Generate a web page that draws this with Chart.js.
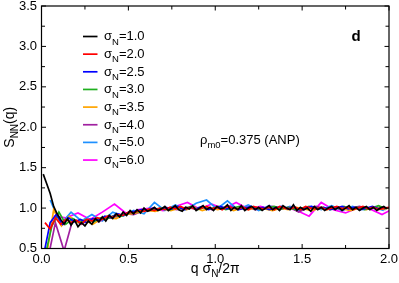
<!DOCTYPE html>
<html><head><meta charset="utf-8">
<script src="https://cdn.jsdelivr.net/npm/chart.js@4"></script>
<style>html,body{margin:0;padding:0;background:#fff}#wrap{width:399px;height:283px;position:relative}</style>
</head><body>
<div id="wrap"><canvas id="c"></canvas></div>
<script>
// ---- data ----
const seriesLabels = ['1.0','2.0','2.5','3.0','3.5','4.0','5.0','6.0'];
const seriesColors = ['#000000','#ff0000','#0000ff','#1fb01f','#ffa500','#a020a0','#1e90ff','#ff00ff'];

const q1 = [0.01,0.03,0.05,0.07,0.09,0.11,0.13,0.15,0.17,0.19,0.21,0.23,0.25,0.27,0.29,0.31,0.33,0.35,0.37,0.39,0.41,0.43,0.45,0.47,0.49,0.51,0.53,0.55,0.57,0.59,0.61,0.63,0.65,0.67,0.69,0.71,0.73,0.75,0.77,0.79,0.81,0.83,0.85,0.87,0.89,0.91,0.93,0.95,0.97,0.99,1.01,1.03,1.05,1.07,1.09,1.11,1.13,1.15,1.17,1.19,1.21,1.23,1.25,1.27,1.29,1.31,1.33,1.35,1.37,1.39,1.41,1.43,1.45,1.47,1.49,1.51,1.53,1.55,1.57,1.59,1.61,1.63,1.65,1.67,1.69,1.71,1.73,1.75,1.77,1.79,1.81,1.83,1.85,1.87,1.89,1.91,1.93,1.95,1.97,1.99];
const s1 = [1.42,1.30,1.18,1.02,0.93,0.86,0.80,0.87,0.79,0.85,0.77,0.82,0.78,0.84,0.80,0.87,0.83,0.89,0.84,0.91,0.87,0.93,0.89,0.95,0.91,0.97,0.93,0.98,0.94,1.00,0.96,0.98,1.01,0.97,0.99,1.02,0.97,1.00,1.03,0.98,0.96,1.01,0.99,1.03,0.97,1.00,1.03,0.98,1.01,0.97,1.02,0.99,1.00,1.04,0.97,1.01,0.98,1.03,0.97,1.00,1.02,0.98,1.01,0.97,1.00,1.03,0.98,1.01,0.97,1.03,1.00,0.98,1.04,0.97,1.01,0.98,1.00,0.96,1.02,0.98,1.01,0.97,1.00,1.02,0.98,1.01,0.97,1.00,1.03,0.98,1.01,0.97,1.00,1.02,0.98,1.01,0.97,1.00,1.02,0.99];

const q2 = [0.02,0.05,0.08,0.11,0.14,0.17,0.20,0.23,0.26,0.29,0.32,0.35,0.38,0.41,0.44,0.47,0.50,0.53,0.56,0.59,0.62,0.65,0.68,0.71,0.74,0.77,0.80,0.83,0.86,0.89,0.92,0.95,0.98,1.01,1.04,1.07,1.10,1.13,1.16,1.19,1.22,1.25,1.28,1.31,1.34,1.37,1.40,1.43,1.46,1.49,1.52,1.55,1.58,1.61,1.64,1.67,1.70,1.73,1.76,1.79,1.82,1.85,1.88,1.91,1.94,1.97,2.00];
const s2 = [0.82,0.74,0.88,0.80,0.86,0.82,0.85,0.81,0.86,0.84,0.88,0.86,0.90,0.89,0.92,0.91,0.95,0.94,0.97,0.96,0.99,0.97,1.00,0.98,1.01,0.99,1.02,0.99,1.01,0.98,1.00,1.02,0.99,1.01,0.98,1.02,1.00,0.99,1.01,0.98,1.02,1.00,0.99,1.01,0.98,1.02,1.00,0.99,1.01,0.98,1.02,1.00,0.99,1.01,0.98,1.00,1.02,0.99,1.01,0.98,1.00,1.02,0.99,1.01,0.98,1.00,1.01];

const q25 = [0.015,0.05,0.085,0.12,0.155,0.19,0.225,0.26,0.295,0.33,0.365,0.40,0.435,0.47,0.505,0.54,0.575,0.61,0.645,0.68,0.715,0.75,0.785,0.82,0.855,0.89,0.925,0.96,0.995,1.03,1.065,1.10,1.135,1.17,1.205,1.24,1.275,1.31,1.345,1.38,1.415,1.45,1.485,1.52,1.555,1.59,1.625,1.66,1.695,1.73,1.765,1.80,1.835,1.87,1.905,1.94,1.975];
const s25 = [0.45,0.82,0.92,0.80,0.88,0.83,0.86,0.82,0.87,0.85,0.90,0.88,0.93,0.91,0.95,0.96,0.98,0.97,1.00,0.98,1.01,0.99,1.02,0.98,1.01,0.99,1.02,0.98,1.00,1.02,0.99,1.01,0.98,1.00,1.02,0.99,1.01,0.98,1.00,1.02,0.99,1.01,0.98,1.00,1.02,0.99,1.01,0.98,1.00,1.02,0.99,1.01,0.98,1.00,1.02,0.99,1.01];

const q3 = [0.02,0.06,0.10,0.14,0.18,0.22,0.26,0.30,0.34,0.38,0.42,0.46,0.50,0.54,0.58,0.62,0.66,0.70,0.74,0.78,0.82,0.86,0.90,0.94,0.98,1.02,1.06,1.10,1.14,1.18,1.22,1.26,1.30,1.34,1.38,1.42,1.46,1.50,1.54,1.58,1.62,1.66,1.70,1.74,1.78,1.82,1.86,1.90,1.94,1.98];
const s3 = [0.40,0.78,0.95,0.80,0.87,0.82,0.86,0.83,0.88,0.87,0.91,0.90,0.94,0.95,0.97,0.98,0.99,1.00,0.98,1.01,0.99,1.02,0.98,1.01,0.99,1.02,0.98,1.00,1.02,0.99,1.01,0.98,1.00,1.02,0.99,1.01,0.98,1.00,1.02,0.99,1.01,0.98,1.00,1.02,0.99,1.01,0.98,1.00,1.03,0.99];

const q35 = [0.025,0.07,0.115,0.16,0.205,0.25,0.295,0.34,0.385,0.43,0.475,0.52,0.565,0.61,0.655,0.70,0.745,0.79,0.835,0.88,0.925,0.97,1.015,1.06,1.105,1.15,1.195,1.24,1.285,1.33,1.375,1.42,1.465,1.51,1.555,1.60,1.645,1.69,1.735,1.78,1.825,1.87,1.915,1.96,2.005];
const s35 = [0.35,0.98,0.78,0.90,0.82,0.85,0.80,0.86,0.88,0.87,0.92,0.93,0.95,0.97,0.96,0.99,0.97,1.00,0.98,1.01,0.97,1.00,0.98,1.01,0.97,1.00,0.98,1.01,0.99,0.97,1.00,0.98,1.01,0.99,0.97,1.00,0.98,1.01,0.99,0.97,1.00,0.98,1.01,0.99,1.00];

const q4 = [0.03,0.08,0.13,0.18,0.23,0.28,0.33,0.38,0.43,0.48,0.53,0.58,0.63,0.68,0.73,0.78,0.83,0.88,0.93,0.98,1.03,1.08,1.13,1.18,1.23,1.28,1.33,1.38,1.43,1.48,1.53,1.58,1.63,1.68,1.73,1.78,1.83,1.88,1.93,1.98];
const s4 = [0.30,0.82,0.47,0.86,0.80,0.87,0.83,0.90,0.89,0.93,0.92,0.96,0.97,0.98,1.00,0.98,1.01,0.99,1.02,0.98,1.00,1.02,0.99,1.01,0.98,1.00,1.02,0.99,1.01,0.95,1.00,1.02,0.99,1.01,0.98,1.00,1.02,0.99,1.01,0.98];

const q5 = [0.05,0.11,0.17,0.23,0.29,0.35,0.41,0.47,0.53,0.59,0.65,0.71,0.77,0.83,0.89,0.95,1.01,1.07,1.13,1.19,1.25,1.31,1.37,1.43,1.49,1.55,1.61,1.67,1.73,1.79,1.85,1.91,1.97];
const s5 = [1.10,0.80,0.95,0.84,0.92,0.84,0.95,0.90,0.97,0.93,1.07,0.97,1.04,0.98,1.06,1.10,0.99,1.09,0.98,1.04,0.97,1.03,0.98,1.02,0.97,1.02,0.98,1.03,0.97,1.02,0.98,1.01,0.97];

const q6 = [0.07,0.14,0.21,0.28,0.35,0.42,0.49,0.56,0.63,0.70,0.77,0.84,0.91,0.98,1.05,1.12,1.19,1.26,1.33,1.40,1.47,1.54,1.61,1.68,1.75,1.82,1.89,1.96,2.03];
const s6 = [0.90,0.88,0.94,0.86,0.95,1.05,0.93,0.98,1.00,0.97,1.02,1.07,0.99,1.05,0.99,1.07,0.99,1.02,0.98,1.01,0.97,0.90,1.07,0.98,0.94,1.00,0.99,0.92,1.00];

const seriesQ = [q1,q2,q25,q3,q35,q4,q5,q6];
const seriesS = [s1,s2,s25,s3,s35,s4,s5,s6];

const xMin = 0, xMax = 2, xStep = 0.5;
const yMin = 0.5, yMax = 3.5, yStep = 0.5;

// ---- chart ----
const FONT = "'Liberation Sans', Arial, Helvetica, sans-serif";

const datasets = seriesLabels.map((lab, i) => ({
  label: 'σN=' + lab,
  data: seriesQ[i].map((x, k) => ({x: x, y: seriesS[i][k]})),
  borderColor: seriesColors[i],
  backgroundColor: seriesColors[i],
  borderWidth: 1.7,
  pointRadius: 0,
  tension: 0,
  fill: false
}));

function drawSub(ctx, parts, x, y) {
  let cx = x;
  for (const p of parts) {
    ctx.font = (p[3] || '') + p[1] + 'px ' + FONT;
    ctx.fillText(p[0], cx, y + p[2]);
    cx += ctx.measureText(p[0]).width;
  }
  return cx - x;
}
function measureSub(ctx, parts) {
  let w = 0;
  for (const p of parts) { ctx.font = (p[3] || '') + p[1] + 'px ' + FONT; w += ctx.measureText(p[0]).width; }
  return w;
}

const decor = {
  id: 'decor',
  afterDraw(chart) {
    const ctx = chart.ctx, a = chart.chartArea;
    const xs = chart.scales.x, ys = chart.scales.y;
    ctx.save();
    ctx.strokeStyle = '#000';
    ctx.lineWidth = 1.2;
    ctx.strokeRect(a.left, a.top, a.right - a.left, a.bottom - a.top);
    ctx.lineWidth = 1;
    const tl = 4.5, tlm = 3.5;
    const xt = xs.ticks.map(t => t.value);
    const yt = ys.ticks.map(t => t.value);
    ctx.beginPath();
    xt.forEach((v, i) => {
      const px = xs.getPixelForValue(v);
      ctx.moveTo(px, a.bottom); ctx.lineTo(px, a.bottom - tl);
      ctx.moveTo(px, a.top); ctx.lineTo(px, a.top + tl);
      if (i < xt.length - 1) {
        const pm = xs.getPixelForValue((v + xt[i + 1]) / 2);
        ctx.moveTo(pm, a.bottom); ctx.lineTo(pm, a.bottom - tlm);
        ctx.moveTo(pm, a.top); ctx.lineTo(pm, a.top + tlm);
      }
    });
    yt.forEach((v, i) => {
      const py = ys.getPixelForValue(v);
      ctx.moveTo(a.left, py); ctx.lineTo(a.left + tl, py);
      ctx.moveTo(a.right, py); ctx.lineTo(a.right - tl, py);
      if (i < yt.length - 1) {
        const pm = ys.getPixelForValue((v + yt[i + 1]) / 2);
        ctx.moveTo(a.left, pm); ctx.lineTo(a.left + tlm, pm);
        ctx.moveTo(a.right, pm); ctx.lineTo(a.right - tlm, pm);
      }
    });
    ctx.stroke();

    ctx.fillStyle = '#000';
    ctx.textBaseline = 'alphabetic';
    ctx.textAlign = 'left';

    const lx0 = 83, lx1 = 97.5, tx = 104, y0 = 36.5, dy = 17.65;
    seriesLabels.forEach((lab, i) => {
      const y = y0 + dy * i;
      ctx.strokeStyle = seriesColors[i];
      ctx.lineWidth = 1.7;
      ctx.beginPath(); ctx.moveTo(lx0, y); ctx.lineTo(lx1, y); ctx.stroke();
      ctx.fillStyle = '#000';
      drawSub(ctx, [['σ', 13, 0], ['N', 9.5, 4.5], ['=' + lab, 13, 0]], tx, y + 3.8);
    });

    const xParts = [['q σ', 14, 0], ['N', 10, 4], ['/2π', 14, 0]];
    const xw = measureSub(ctx, xParts);
    drawSub(ctx, xParts, (a.left + a.right) / 2 - xw / 2, 272.5);

    const yParts = [['S', 14, 0], ['NN', 10, 4], ['(q)', 14, 0]];
    const yw = measureSub(ctx, yParts);
    ctx.save();
    ctx.translate(13.5, (a.top + a.bottom) / 2);
    ctx.rotate(-Math.PI / 2);
    drawSub(ctx, yParts, -yw / 2, 0);
    ctx.restore();

    drawSub(ctx, [['ρ', 13, 0], ['m0', 9.5, 4], ['=0.375 (ANP)', 13, 0]], 200, 143.5);

    drawSub(ctx, [['d', 15, 0, 'bold ']], 351.5, 41);
    ctx.restore();
  }
};

new Chart(document.getElementById('c'), {
  type: 'line',
  data: { datasets },
  options: {
    responsive: true,
    maintainAspectRatio: false,
    animation: false,
    devicePixelRatio: 1,
    layout: { padding: { left: 0, right: 10, top: 6, bottom: 0 } },
    plugins: { legend: { display: false }, tooltip: { enabled: false } },
    scales: {
      x: {
        type: 'linear', min: xMin, max: xMax,
        grid: { display: false, drawTicks: false },
        border: { display: false },
        ticks: { stepSize: xStep, autoSkip: false, maxRotation: 0, padding: 3, color: '#000',
          font: { family: FONT, size: 13 }, callback: v => Number(v).toFixed(1) },
        afterFit: s => { s.height = 34.5; s.paddingLeft = 0; s.paddingRight = 0; }
      },
      y: {
        type: 'linear', min: yMin, max: yMax,
        grid: { display: false, drawTicks: false },
        border: { display: false },
        ticks: { stepSize: yStep, autoSkip: false, padding: 4.5, color: '#000',
          font: { family: FONT, size: 13 }, callback: v => Number(v).toFixed(1) },
        afterFit: s => { s.width = 41.5; s.paddingTop = 0; s.paddingBottom = 0; }
      }
    }
  },
  plugins: [decor]
});
</script>
</body></html>
